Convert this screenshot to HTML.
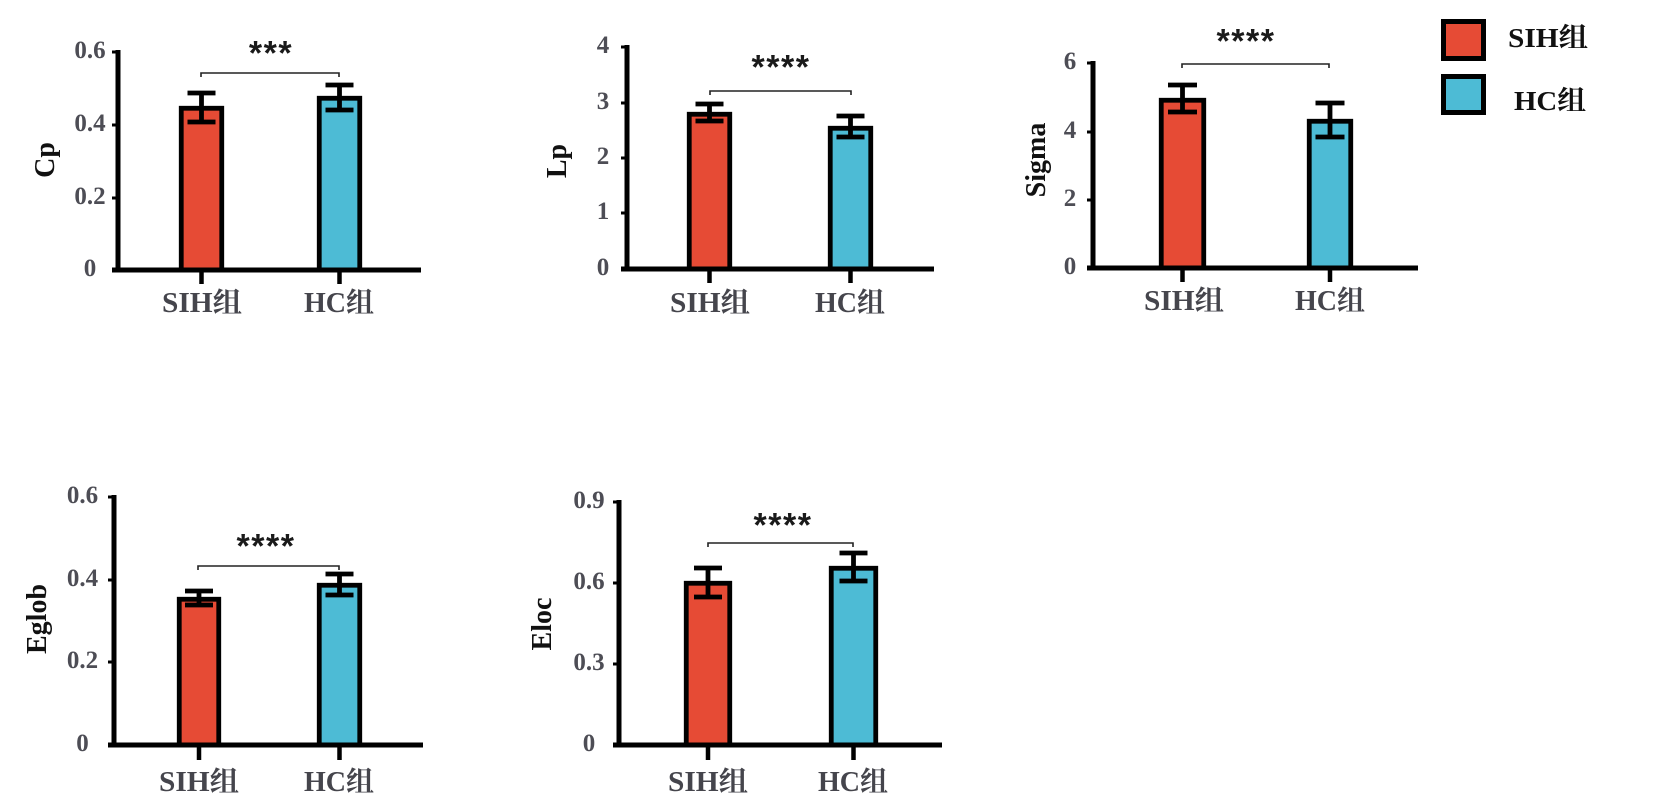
<!DOCTYPE html>
<html>
<head>
<meta charset="utf-8">
<style>
  html, body { margin:0; padding:0; background:#ffffff; }
  svg { display:block; }
  .tick { font-family:"Liberation Serif","Noto Serif CJK SC",serif; font-weight:bold; font-size:25px; fill:#4d4d55; text-anchor:middle; }
  .xl { font-family:"Liberation Serif","Noto Serif CJK SC",serif; font-weight:bold; font-size:28px; fill:#45454c; text-anchor:middle; }
  .yt { font-family:"Liberation Serif",serif; font-weight:bold; font-size:28px; fill:#111; text-anchor:middle; }
  .star { font-family:"Liberation Sans",sans-serif; font-weight:bold; font-size:34px; fill:#1a1a1a; text-anchor:middle; letter-spacing:1.5px; }
  .leg { font-family:"Liberation Serif","Noto Serif CJK SC",serif; font-weight:bold; font-size:27px; fill:#111; }
  .ax { stroke:#000; stroke-width:5; fill:none; }
  .yk { stroke:#000; stroke-width:3; }
  .xk { stroke:#000; stroke-width:4.5; }
  .red { fill:#E64B35; stroke:#000; stroke-width:4.8; }
  .blue { fill:#4DBBD5; stroke:#000; stroke-width:4.8; }
  .eb { stroke:#000; stroke-width:4.8; fill:none; }
  .sig { stroke:#222; stroke-width:1.6; fill:none; }
</style>
</head>
<body>
<svg width="1654" height="809" viewBox="0 0 1654 809" xmlns="http://www.w3.org/2000/svg">
<rect x="0" y="0" width="1654" height="809" fill="#fff"/>

<!-- ============ Chart 1: Cp ============ -->
<g>
  <rect class="red" x="181.25" y="108.25" width="40.5" height="161.75"/>
  <rect class="blue" x="319.25" y="98.25" width="40.5" height="171.75"/>
  <path class="eb" d="M201.5 93 V122 M187.5 93 H215.5 M187.5 122 H215.5"/>
  <path class="eb" d="M339.5 85 V110 M325.5 85 H353.5 M325.5 110 H353.5"/>
  <path class="ax" d="M118 50 V272.5 M112 270 H421"/>
  <path class="yk" d="M112 52 H118 M112 125 H118 M112 198 H118"/>
  <path class="xk" d="M201.5 270 V284 M339.5 270 V284"/>
  <text class="tick" x="90" y="58">0.6</text>
  <text class="tick" x="90" y="131">0.4</text>
  <text class="tick" x="90" y="204">0.2</text>
  <text class="tick" x="90" y="276">0</text>
  <text class="xl" x="202" y="312" textLength="80" lengthAdjust="spacingAndGlyphs">SIH组</text>
  <text class="xl" x="339" y="312" textLength="70" lengthAdjust="spacingAndGlyphs">HC组</text>
  <text class="yt" transform="translate(54,160) rotate(-90)">Cp</text>
  <path class="sig" d="M201 77 V73 H339 V77"/>
  <text class="star" x="271" y="64.5">***</text>
</g>

<!-- ============ Chart 2: Lp ============ -->
<g>
  <rect class="red" x="689.25" y="114.25" width="40.5" height="154.75"/>
  <rect class="blue" x="830.25" y="128.25" width="40.5" height="140.75"/>
  <path class="eb" d="M709.5 104 V121 M695.5 104 H723.5 M695.5 121 H723.5"/>
  <path class="eb" d="M850.5 116 V137 M836.5 116 H864.5 M836.5 137 H864.5"/>
  <path class="ax" d="M627 45 V271.5 M621 269 H934"/>
  <path class="yk" d="M621 47 H627 M621 103 H627 M621 158 H627 M621 213 H627"/>
  <path class="xk" d="M709.5 269 V283 M850.5 269 V283"/>
  <text class="tick" x="603" y="53">4</text>
  <text class="tick" x="603" y="109">3</text>
  <text class="tick" x="603" y="164">2</text>
  <text class="tick" x="603" y="219">1</text>
  <text class="tick" x="603" y="275">0</text>
  <text class="xl" x="710" y="312" textLength="80" lengthAdjust="spacingAndGlyphs">SIH组</text>
  <text class="xl" x="850" y="312" textLength="70" lengthAdjust="spacingAndGlyphs">HC组</text>
  <text class="yt" transform="translate(566,161) rotate(-90)">Lp</text>
  <path class="sig" d="M710 95 V91 H851 V95"/>
  <text class="star" x="781" y="78.5">****</text>
</g>

<!-- ============ Chart 3: Sigma ============ -->
<g>
  <rect class="red" x="1161.25" y="100.25" width="42.5" height="167.75"/>
  <rect class="blue" x="1309.25" y="121.25" width="41.5" height="146.75"/>
  <path class="eb" d="M1182.5 85 V112 M1168 85 H1197 M1168 112 H1197"/>
  <path class="eb" d="M1330 103 V137 M1315.5 103 H1344.5 M1315.5 137 H1344.5"/>
  <path class="ax" d="M1093 61 V270.5 M1087 268 H1418"/>
  <path class="yk" d="M1087 63 H1093 M1087 132 H1093 M1087 200 H1093"/>
  <path class="xk" d="M1182.5 268 V282 M1330 268 V282"/>
  <text class="tick" x="1070" y="69">6</text>
  <text class="tick" x="1070" y="138">4</text>
  <text class="tick" x="1070" y="206">2</text>
  <text class="tick" x="1070" y="274">0</text>
  <text class="xl" x="1184" y="310" textLength="80" lengthAdjust="spacingAndGlyphs">SIH组</text>
  <text class="xl" x="1330" y="310" textLength="70" lengthAdjust="spacingAndGlyphs">HC组</text>
  <text class="yt" transform="translate(1045,160) rotate(-90)">Sigma</text>
  <path class="sig" d="M1182 68 V64 H1329 V68"/>
  <text class="star" x="1246" y="52.5">****</text>
</g>

<!-- ============ Legend ============ -->
<g>
  <rect x="1443.5" y="21.5" width="40" height="37" fill="#E64B35" stroke="#000" stroke-width="5"/>
  <rect x="1443.5" y="76.5" width="40" height="36" fill="#4DBBD5" stroke="#000" stroke-width="5"/>
  <text class="leg" x="1508" y="47" textLength="80" lengthAdjust="spacingAndGlyphs">SIH组</text>
  <text class="leg" x="1514" y="110" textLength="72" lengthAdjust="spacingAndGlyphs">HC组</text>
</g>

<!-- ============ Chart 4: Eglob ============ -->
<g>
  <rect class="red" x="179.25" y="599.25" width="39.5" height="145.75"/>
  <rect class="blue" x="319.25" y="585.25" width="40.5" height="159.75"/>
  <path class="eb" d="M199 591 V605 M185 591 H213 M185 605 H213"/>
  <path class="eb" d="M339.5 574 V595 M325.5 574 H353.5 M325.5 595 H353.5"/>
  <path class="ax" d="M114 495 V747.5 M108 745 H423"/>
  <path class="yk" d="M108 497 H114 M108 580 H114 M108 662 H114"/>
  <path class="xk" d="M199 745 V760 M339.5 745 V760"/>
  <text class="tick" x="82.5" y="503">0.6</text>
  <text class="tick" x="82.5" y="586">0.4</text>
  <text class="tick" x="82.5" y="668">0.2</text>
  <text class="tick" x="82.5" y="751">0</text>
  <text class="xl" x="199" y="791" textLength="80" lengthAdjust="spacingAndGlyphs">SIH组</text>
  <text class="xl" x="339" y="791" textLength="70" lengthAdjust="spacingAndGlyphs">HC组</text>
  <text class="yt" transform="translate(46,619) rotate(-90)">Eglob</text>
  <path class="sig" d="M198 570 V566 H339 V570"/>
  <text class="star" x="266" y="557.5">****</text>
</g>

<!-- ============ Chart 5: Eloc ============ -->
<g>
  <rect class="red" x="686.25" y="583.25" width="43.5" height="161.75"/>
  <rect class="blue" x="831.25" y="568.25" width="44.5" height="176.75"/>
  <path class="eb" d="M708 568 V597 M694 568 H722 M694 597 H722"/>
  <path class="eb" d="M853.5 553 V581 M839.5 553 H867.5 M839.5 581 H867.5"/>
  <path class="ax" d="M619 500 V747.5 M613 745 H942"/>
  <path class="yk" d="M613 502 H619 M613 583 H619 M613 664 H619"/>
  <path class="xk" d="M708 745 V760 M853.5 745 V760"/>
  <text class="tick" x="589" y="508">0.9</text>
  <text class="tick" x="589" y="589">0.6</text>
  <text class="tick" x="589" y="670">0.3</text>
  <text class="tick" x="589" y="751">0</text>
  <text class="xl" x="708" y="791" textLength="80" lengthAdjust="spacingAndGlyphs">SIH组</text>
  <text class="xl" x="853" y="791" textLength="70" lengthAdjust="spacingAndGlyphs">HC组</text>
  <text class="yt" transform="translate(551,624) rotate(-90)">Eloc</text>
  <path class="sig" d="M708 547 V543 H853 V547"/>
  <text class="star" x="783" y="536.5">****</text>
</g>
</svg>
</body>
</html>
